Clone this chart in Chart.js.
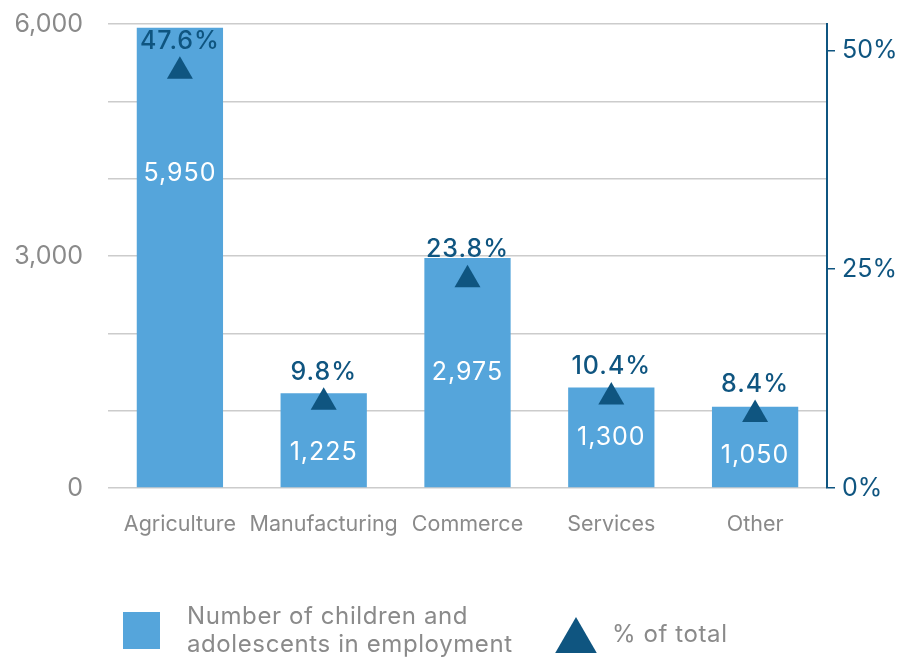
<!DOCTYPE html>
<html>
<head>
<meta charset="utf-8">
<script src="https://cdn.jsdelivr.net/npm/chart.js@4.4.1/dist/chart.umd.min.js"></script>
<style>
  html, body { margin: 0; padding: 0; background: #ffffff; }
  #wrap { width: 899px; height: 657px; }
</style>
</head>
<body>
<div id="wrap"><canvas id="chart" width="899" height="657"></canvas></div>
<script>
// Employment of children and adolescents by sector
const categories = ['Agriculture', 'Manufacturing', 'Commerce', 'Services', 'Other'];
const workers = [5950, 1225, 2975, 1300, 1050];
const shareOfTotal = [47.6, 9.8, 23.8, 10.4, 8.4];
const countTicks = [0, 1000, 2000, 3000, 4000, 5000, 6000];
const countTickLabels = { 0: '0', 3000: '3,000', 6000: '6,000' };
const shareTicks = [0, 25, 50];
const seriesNames = [['Number of children and', 'adolescents in employment'], ['% of total']];

const BAR = '#55a5db';
const DARK = '#0f5580';
const GRAY = '#8a8a8a';
const FONT = 'Inter, "Open Sans", sans-serif';

// Vertical nudges for the white value labels inside the bars
const valueLabelShift = [-84, 12, 0, 0, 8];

const labelsPlugin = {
  id: 'valueLabels',
  afterDatasetsDraw(chart) {
    const ctx = chart.ctx;
    ctx.save();
    ctx.textAlign = 'center';
    ctx.textBaseline = 'middle';
    ctx.letterSpacing = '1px';
    const barMeta = chart.getDatasetMeta(1);
    ctx.font = '400 25px ' + FONT;
    ctx.fillStyle = '#ffffff';
    barMeta.data.forEach((el, i) => {
      const y = (el.y + el.base) / 2 + valueLabelShift[i];
      ctx.fillText(workers[i].toLocaleString('en-US'), el.x, y);
    });
    const ptMeta = chart.getDatasetMeta(0);
    ctx.font = '500 25px ' + FONT;
    ctx.fillStyle = DARK;
    ptMeta.data.forEach((el, i) => {
      ctx.fillText(shareOfTotal[i].toFixed(1) + '%', el.x, el.y - 30);
    });
    ctx.restore();
  },
  afterDraw(chart) {
    const ctx = chart.ctx;
    ctx.save();
    // bar series key
    ctx.fillStyle = BAR;
    ctx.fillRect(123, 612, 37, 37);
    ctx.fillStyle = GRAY;
    ctx.font = '400 24px ' + FONT;
    ctx.letterSpacing = '0.6px';
    ctx.textAlign = 'left';
    ctx.textBaseline = 'middle';
    ctx.fillText(seriesNames[0][0], 187, 617);
    ctx.fillText(seriesNames[0][1], 187, 645);
    // share series key
    ctx.fillStyle = DARK;
    Chart.helpers.drawPoint(ctx, { pointStyle: 'triangle', radius: 24, borderWidth: 0 }, 576, 641);
    ctx.fillStyle = GRAY;
    ctx.fillText(seriesNames[1][0], 612, 635);
    ctx.restore();
  }
};

function fixVertical(width) {
  return function (s) {
    s.width = width;
    s.paddingTop = 0;
    s.paddingBottom = 0;
  };
}

new Chart(document.getElementById('chart'), {
  data: {
    labels: categories,
    datasets: [
      {
        type: 'line',
        label: seriesNames[1][0],
        data: shareOfTotal,
        yAxisID: 'y2',
        showLine: false,
        pointStyle: 'triangle',
        pointRadius: 15,
        pointHoverRadius: 15,
        pointBorderWidth: 0,
        backgroundColor: DARK,
        borderColor: DARK,
        order: 0
      },
      {
        type: 'bar',
        label: seriesNames[0].join(' '),
        data: workers,
        yAxisID: 'y',
        backgroundColor: BAR,
        barPercentage: 0.6,
        categoryPercentage: 1,
        order: 1
      }
    ]
  },
  options: {
    responsive: false,
    animation: false,
    layout: { padding: { top: 24, left: 0, right: 0, bottom: 0 } },
    plugins: { legend: { display: false }, tooltip: { enabled: false } },
    scales: {
      x: {
        grid: { display: false },
        border: { display: false },
        ticks: {
          color: GRAY,
          font: { family: FONT, size: 21.5 },
          padding: 16,
          maxRotation: 0,
          minRotation: 0,
          autoSkip: false
        },
        afterFit(s) { s.height = 169; s.paddingLeft = 0; s.paddingRight = 0; }
      },
      y: {
        position: 'left',
        min: 0,
        max: 6000,
        afterBuildTicks(s) { s.ticks = countTicks.map(v => ({ value: v })); },
        ticks: {
          callback: v => countTickLabels[v] ?? '',
          color: GRAY,
          font: { family: FONT, size: 25 },
          padding: 25
        },
        grid: { color: '#cccccc', lineWidth: 1.5, drawTicks: false },
        border: { display: false },
        afterFit: fixVertical(108)
      },
      y2: {
        position: 'right',
        min: 0,
        max: 53,
        afterBuildTicks(s) { s.ticks = shareTicks.map(v => ({ value: v })); },
        ticks: {
          callback: v => v + '%',
          color: DARK,
          font: { family: FONT, size: 25 },
          padding: 7
        },
        grid: { drawOnChartArea: false, drawTicks: true, tickLength: 8, color: DARK, lineWidth: 1.5 },
        border: { display: true, color: DARK, width: 2 },
        afterFit: fixVertical(72)
      }
    }
  },
  plugins: [labelsPlugin]
});
</script>
</body>
</html>
